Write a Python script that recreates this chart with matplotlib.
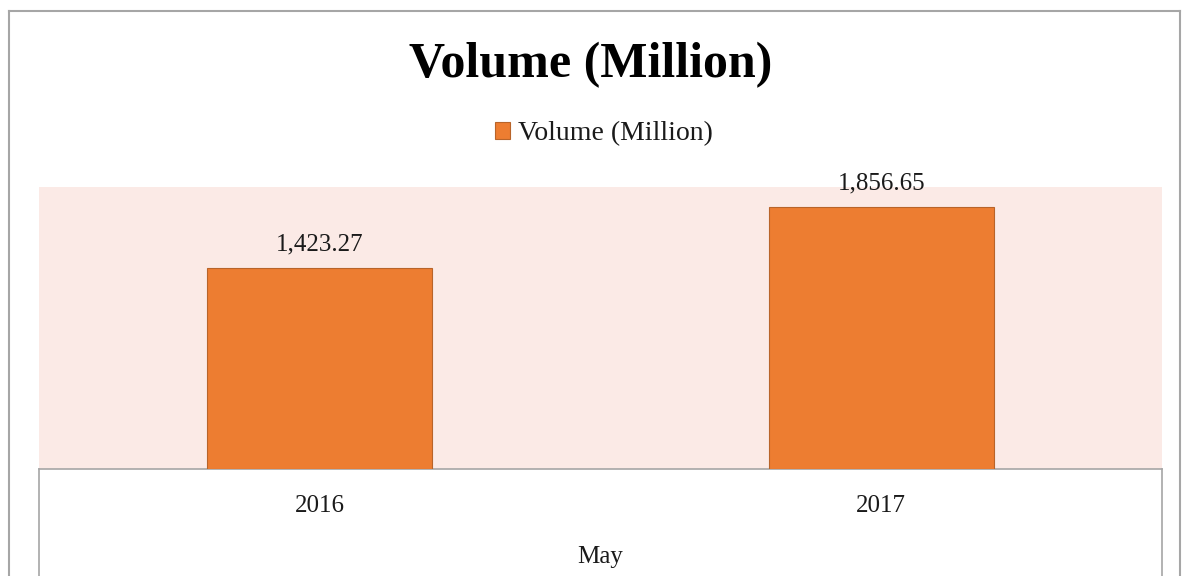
import matplotlib
matplotlib.use("Agg")
import matplotlib.pyplot as plt
from matplotlib.lines import Line2D

categories = ["2016", "2017"]
group_label = "May"
values = [1423.27, 1856.65]
series_name = "Volume (Million)"
title = "Volume (Million)"

W, H = 1182, 576
fig = plt.figure(figsize=(W / 100, H / 100), dpi=100)
plt.rcParams['font.family'] = ['Liberation Serif', 'DejaVu Serif']

def fx(px):
    return px / W

def fy(py):
    return 1 - py / H

ax = fig.add_axes([fx(39), fy(469), fx(1162) - fx(39), fy(187) - fy(469)])
ax.set_facecolor("#FBEAE6")
x = list(range(len(categories)))
bars = ax.bar(x, values, width=0.4, color="#ED7D31", edgecolor="#B8642A", linewidth=0.8,
              label=series_name, zorder=3)
ax.set_xlim(-0.5, len(categories) - 0.5)
ax.set_ylim(0, 2000)
ax.set_yticks([])
ax.set_xticks(x)
ax.set_xticklabels(categories, fontsize=18, color="#1a1a1a")
ax.tick_params(axis="x", length=0, pad=19)
for s in ["top", "left", "right"]:
    ax.spines[s].set_visible(False)
ax.spines["bottom"].set_color("#A6A6A6")
ax.spines["bottom"].set_linewidth(1.2)

for xi, v in zip(x, values):
    ax.annotate(f"{v:,.2f}", (xi, v), xytext=(0, 13), textcoords="offset points",
                ha="center", va="baseline", fontsize=18, color="#1a1a1a")

# multi-level category box lines
for xa in [0, 1]:
    ax.plot([xa, xa], [0, -0.5], transform=ax.transAxes, color="#A6A6A6", lw=1.2, clip_on=False)

fig.text(fx(600), fy(563), group_label, ha="center", va="baseline", fontsize=18, color="#1a1a1a")

# outer chart border
fig.add_artist(Line2D([fx(9), fx(9)], [fy(11), 0], color="#A6A6A6", lw=1.5))
fig.add_artist(Line2D([fx(1180), fx(1180)], [fy(11), 0], color="#A6A6A6", lw=1.5))
fig.add_artist(Line2D([fx(9), fx(1180)], [fy(11), fy(11)], color="#A6A6A6", lw=1.5))

fig.text(fx(591), fy(77), title, ha="center", va="baseline", fontsize=36, fontweight="bold",
         color="#000000")

leg = fig.legend(handles=[bars], labels=[series_name], loc="center", bbox_to_anchor=(fx(604), fy(134)),
                 frameon=False, fontsize=20, handlelength=0.55, handleheight=0.55, handletextpad=0.3,
                 labelcolor="#1a1a1a")

fig.savefig("out.png", dpi=100, facecolor="white")
